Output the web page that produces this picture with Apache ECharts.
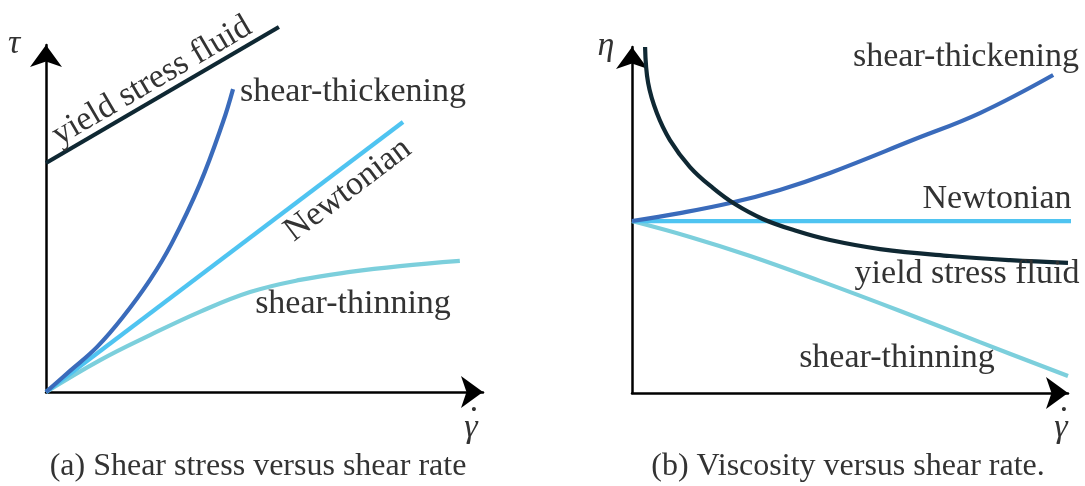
<!DOCTYPE html>
<html>
<head>
<meta charset="utf-8">
<script src="https://cdn.jsdelivr.net/npm/echarts@6/dist/echarts.min.js"></script>
<style>
html,body{margin:0;padding:0;background:#fff;}
#c{width:1085px;height:486px;}
</style>
</head>
<body>
<div id="c"></div>
<script>
// ---- Panel (a): shear stress vs shear rate (arbitrary units) ----
const aYieldX = [0, 5.33];
const aYieldY = [6.60, 10.52];
const aThickX = [0, 0.55, 1.17, 1.76, 2.38, 2.88, 3.52, 4.05, 4.28];
const aThickY = [0, 0.61, 1.30, 2.16, 3.23, 4.29, 5.99, 7.78, 8.73];
const aNewtX = [0, 8.17];
const aNewtY = [0, 7.78];
const aThinX = [0, 1.24, 2.38, 3.52, 4.67, 5.81, 6.96, 8.10, 9.47];
const aThinY = [0, 0.92, 1.64, 2.31, 2.88, 3.23, 3.46, 3.63, 3.78];

// ---- Panel (b): viscosity vs shear rate (arbitrary units) ----
const bNewtX = [0, 10.39];
const bNewtY = [4.97, 4.97];
const bThickX = [0, 1.10, 2.25, 3.39, 4.54, 6.44, 7.98, 9.66];
const bThickY = [4.97, 5.20, 5.49, 5.87, 6.36, 7.31, 8.09, 9.19];
const bYieldX = [0.30, 0.37, 0.57, 0.87, 1.33, 1.86, 2.36, 3.00, 3.78, 4.54, 5.69, 7.29, 8.67, 10.0];
const bYieldY = [10.0, 8.96, 8.09, 7.31, 6.53, 5.92, 5.46, 5.03, 4.68, 4.42, 4.16, 3.96, 3.84, 3.76];
const bThinX = [0, 1.33, 2.71, 4.31, 6.15, 7.98, 10.0];
const bThinY = [4.97, 4.51, 3.96, 3.24, 2.37, 1.47, 0.49];

const xMax = 10, yMax = 10;

const C_YIELD = '#0f2833', C_THICK = '#3a6bbb', C_NEWT = '#4fc4f1', C_THIN = '#7ccfdc';
const TXT = '#333333';
const LBL_FONT = '34px "Liberation Serif"';
const CAP_FONT = '32px "Liberation Serif"';
const MATH_FONT = 'italic 34px "Liberation Serif"';

function zip(xs, ys){ return xs.map((x,i)=>[x, ys[i]]); }

function axisPair(gi){
  const line = {show:true, onZero:false, symbol:['none','arrow'], symbolSize:[24,22],
    lineStyle:{color:'#000', width:2.5}};
  return {
    x:{type:'value', gridIndex:gi, min:0, max:xMax, axisLine:line, axisTick:{show:false},
       axisLabel:{show:false}, splitLine:{show:false}},
    y:{type:'value', gridIndex:gi, min:0, max:yMax, axisLine:line, axisTick:{show:false},
       axisLabel:{show:false}, splitLine:{show:false}}
  };
}
const A = axisPair(0), B = axisPair(1);

function ser(gi, xs, ys, color, smooth, z){
  return {type:'line', xAxisIndex:gi, yAxisIndex:gi, data:zip(xs,ys), symbol:'none',
    smooth:smooth, clip:false, z:z||2,
    lineStyle:{color:color, width:4.2, cap:'butt'}, silent:true};
}

function txt(t, x, y, font, rot){
  return {type:'text', x:x, y:y, rotation:rot||0, silent:true, z:10,
    style:{text:t, font:font, fill:TXT, align:'center', verticalAlign:'middle',
      textAlign:'center', textVerticalAlign:'middle'}};
}

const chart = echarts.init(document.getElementById('c'), null, {renderer:'canvas'});
chart.setOption({
  animation:false,
  backgroundColor:'#fff',
  grid:[
    {left:46, top:45, width:437, height:347},
    {left:632, top:47, width:436, height:346}
  ],
  xAxis:[A.x, B.x],
  yAxis:[A.y, B.y],
  series:[
    ser(0, aThinX, aThinY, C_THIN, 0.4, 2),
    ser(0, aNewtX, aNewtY, C_NEWT, false, 3),
    ser(0, aThickX, aThickY, C_THICK, 0.4, 4),
    ser(0, aYieldX, aYieldY, C_YIELD, false, 5),
    ser(1, bThinX, bThinY, C_THIN, 0.4, 2),
    ser(1, bNewtX, bNewtY, C_NEWT, false, 3),
    ser(1, bThickX, bThickY, C_THICK, 0.4, 4),
    ser(1, bYieldX, bYieldY, C_YIELD, 0.4, 5)
  ],
  graphic:[
    txt('yield stress fluid', 152, 81, LBL_FONT, 0.529),
    txt('shear-thickening', 353, 92, LBL_FONT),
    txt('Newtonian', 348, 190, LBL_FONT, 0.646),
    txt('shear-thinning', 353, 304, LBL_FONT),
    txt('\u03C4', 14, 44, MATH_FONT),
    txt('\u03B3', 471, 428, MATH_FONT),
    txt('\u00B7', 474, 411, '34px "Liberation Serif"'),
    txt('(a) Shear stress versus shear rate', 258, 467, CAP_FONT),
    txt('shear-thickening', 966, 57, LBL_FONT),
    txt('Newtonian', 997, 199, LBL_FONT),
    txt('yield stress fluid', 967, 274, LBL_FONT),
    txt('shear-thinning', 897, 358, LBL_FONT),
    txt('\u03B7', 606, 46, MATH_FONT),
    txt('\u03B3', 1061, 428, MATH_FONT),
    txt('\u00B7', 1064, 411, '34px "Liberation Serif"'),
    txt('(b) Viscosity versus shear rate.', 848, 467, CAP_FONT)
  ]
});
</script>
</body>
</html>
